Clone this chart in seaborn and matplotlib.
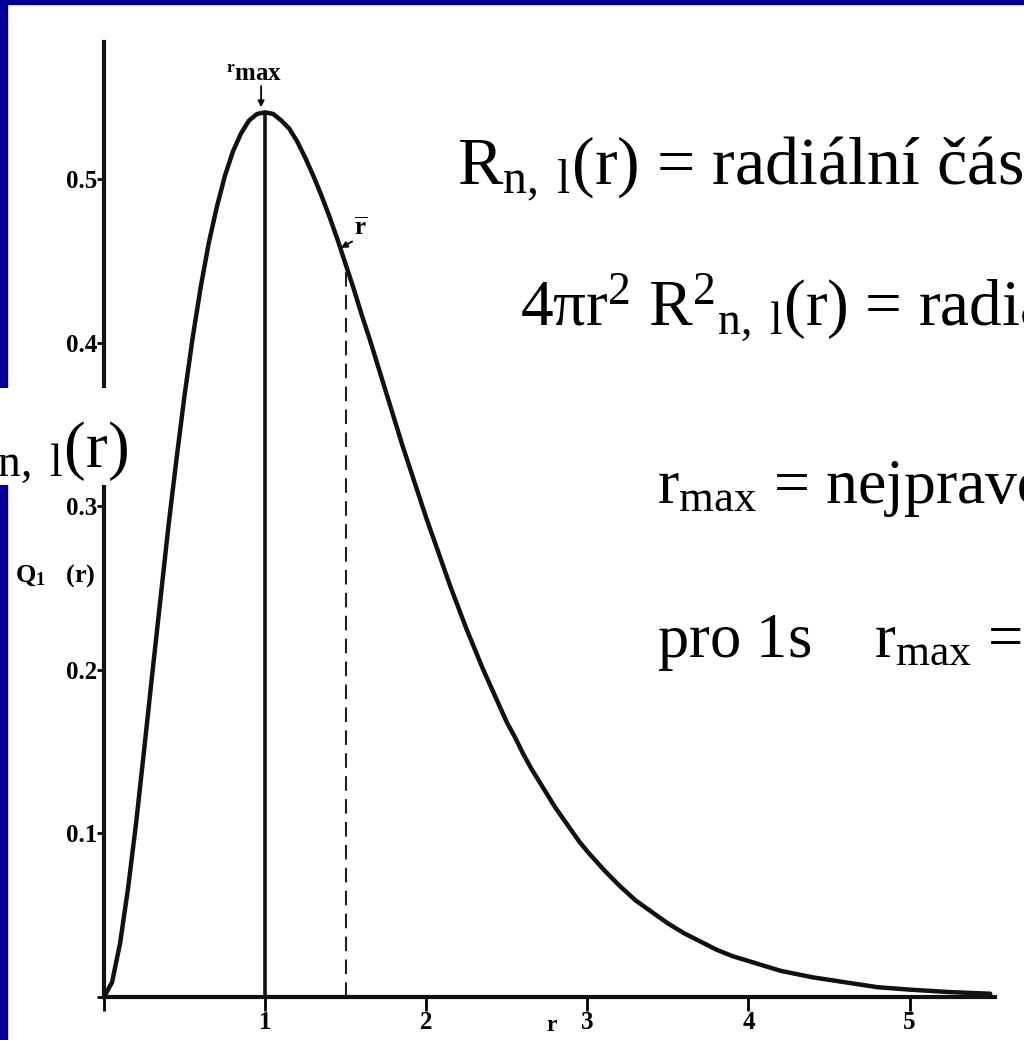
import matplotlib
matplotlib.use('Agg')
import matplotlib.pyplot as plt
import seaborn as sns
import pandas as pd
from matplotlib.patches import Rectangle

# radial probability curve
r_vals = [0.0, 0.05, 0.1, 0.15, 0.2, 0.25, 0.3, 0.35, 0.4, 0.45,
          0.5, 0.55, 0.6, 0.65, 0.7, 0.75, 0.8, 0.85, 0.9, 0.95,
          1.0, 1.05, 1.1, 1.15, 1.2, 1.25, 1.3, 1.35, 1.4, 1.45,
          1.5, 1.55, 1.6, 1.65, 1.7, 1.75, 1.8, 1.85, 1.9, 1.95,
          2.0, 2.05, 2.1, 2.15, 2.2, 2.25, 2.3, 2.35, 2.4, 2.45,
          2.5, 2.55, 2.6, 2.65, 2.7, 2.75, 2.8, 2.85, 2.9, 2.95,
          3.0, 3.1, 3.2, 3.3, 3.4, 3.5, 3.6, 3.7, 3.8, 3.9,
          4.0, 4.2, 4.4, 4.6, 4.8, 5.0, 5.25, 5.5]
q_vals = [0.0, 0.009, 0.033, 0.067, 0.107, 0.152, 0.198, 0.243, 0.288, 0.329,
          0.368, 0.403, 0.434, 0.461, 0.483, 0.502, 0.517, 0.528, 0.536, 0.540,
          0.541, 0.540, 0.536, 0.531, 0.523, 0.513, 0.502, 0.490, 0.477, 0.463,
          0.448, 0.433, 0.417, 0.402, 0.386, 0.370, 0.354, 0.338, 0.323, 0.308,
          0.293, 0.279, 0.265, 0.251, 0.238, 0.225, 0.213, 0.201, 0.190, 0.179,
          0.168, 0.159, 0.149, 0.140, 0.132, 0.124, 0.116, 0.109, 0.102, 0.095,
          0.089, 0.078, 0.068, 0.059, 0.052, 0.045, 0.039, 0.034, 0.029, 0.025,
          0.022, 0.016, 0.012, 0.009, 0.006, 0.0045, 0.003, 0.002]

r_max = 1.0
q_rmax = 0.541
r_mean = 1.5
q_rmean = 0.448

x_ticks = [0, 1, 2, 3, 4, 5]
x_labels = ['', '1', '2', '3', '4', '5']
y_ticks = [0.0, 0.1, 0.2, 0.3, 0.4, 0.5]
y_labels = ['', '0.1', '0.2', '0.3', '0.4', '0.5']

df = pd.DataFrame({'r': r_vals, 'Q': q_vals})

sns.set_style('ticks')
plt.rcParams['font.family'] = ['Liberation Serif', 'DejaVu Serif']
plt.rcParams['mathtext.fontset'] = 'custom'
plt.rcParams['mathtext.rm'] = 'Liberation Serif'
plt.rcParams['mathtext.it'] = 'Liberation Serif:italic'
plt.rcParams['mathtext.bf'] = 'Liberation Serif:bold'
plt.rcParams['mathtext.default'] = 'regular'
plt.rcParams['text.color'] = 'black'
plt.rcParams['axes.labelcolor'] = 'black'
plt.rcParams['xtick.color'] = 'black'
plt.rcParams['ytick.color'] = 'black'

W, H = 1024, 1040
fig = plt.figure(figsize=(W / 100, H / 100), dpi=100)
fig.patch.set_facecolor('white')

def fx(px):
    return px / W

def fy(py):
    return 1 - py / H

ax = fig.add_axes([fx(104), fy(997), 891 / W, 955 / H])
ax.set_facecolor('none')

sns.lineplot(data=df, x='r', y='Q', ax=ax, color='#111111', linewidth=3.2)
ax.vlines(r_max, 0, q_rmax, color='#111111', linewidth=2.6)
ax.vlines(r_mean, 0, q_rmean, color='#222222', linewidth=1.5, linestyles=(0, (7, 4)))

ax.set_xlim(0, 5.53)
ax.set_ylim(0, 0.584)
sns.despine(ax=ax)
for s in ['left', 'bottom']:
    ax.spines[s].set_linewidth(3)
    ax.spines[s].set_color('#111111')

ax.set_xticks(x_ticks)
ax.set_xticklabels(x_labels, fontweight='bold', fontsize=18)
ax.set_yticks(y_ticks)
ax.set_yticklabels(y_labels, fontweight='bold', fontsize=18)
ax.tick_params(axis='x', direction='out', length=10, width=2, pad=0)
ax.tick_params(axis='y', direction='out', length=5, width=2, pad=0)

ax.set_xlabel('r', fontweight='bold', fontsize=17, va='baseline')
ax.xaxis.set_label_coords((552 - 104) / 891, -0.036)
ax.set_ylabel('')

# annotations in the plot
ax.text(r_max - 0.07, 0.557, r'$\mathbf{{}^{r}max}$', ha='center', va='bottom', fontsize=18)
ax.annotate('', xy=(r_max - 0.025, q_rmax + 0.003), xytext=(r_max - 0.025, 0.557),
            arrowprops=dict(arrowstyle='-|>', color='#111111', lw=1.4, mutation_scale=9,
                            shrinkA=0, shrinkB=0))
ax.text(r_mean + 0.05, 0.463, r'$\overline{\mathbf{r}}$', ha='left', va='bottom', fontsize=18)
ax.annotate('', xy=(r_mean - 0.03, q_rmean + 0.01), xytext=(r_mean + 0.04, 0.462),
            arrowprops=dict(arrowstyle='-|>', color='#111111', lw=1.4, mutation_scale=9,
                            shrinkA=0, shrinkB=0))

fig.text(fx(15), fy(576), r'$\mathbf{Q_{1}}$   (r)', fontsize=19, fontweight='bold',
         ha='left', va='center')

# blue slide frame
fig.patches.append(Rectangle((0, fy(4)), 1, 4 / H, transform=fig.transFigure,
                             color='#000099', zorder=0))
fig.patches.append(Rectangle((0, 0), fx(7), 1, transform=fig.transFigure,
                             color='#000099', zorder=0))
# white label box that covers the frame and the axis
fig.patches.append(Rectangle((0, fy(485)), fx(132), 97 / H, transform=fig.transFigure,
                             facecolor='white', edgecolor='none', zorder=5))

# slide text
fig.text(fx(128), fy(467), r'R$^{2}{}_{n,\ l}$(r)', fontsize=47, ha='right', va='baseline',
         zorder=6)
fig.text(fx(457), fy(184), r'R$_{n,\ l}$(r) = radiální část vlnové funkce',
         fontsize=49, ha='left', va='baseline')
fig.text(fx(520), fy(325), r'4$\pi$r$^{2}$ R$^{2}{}_{n,\ l}$(r) = radiální hustota pravděpodobnosti',
         fontsize=47, ha='left', va='baseline')
fig.text(fx(657), fy(503), r'r$_{max}$ = nejpravděpodobnější poloměr',
         fontsize=46, ha='left', va='baseline')
fig.text(fx(657), fy(657), r'pro 1s    r$_{max}$ = a$_{0}$',
         fontsize=45, ha='left', va='baseline')

fig.savefig('out.png', dpi=100, facecolor='white')
